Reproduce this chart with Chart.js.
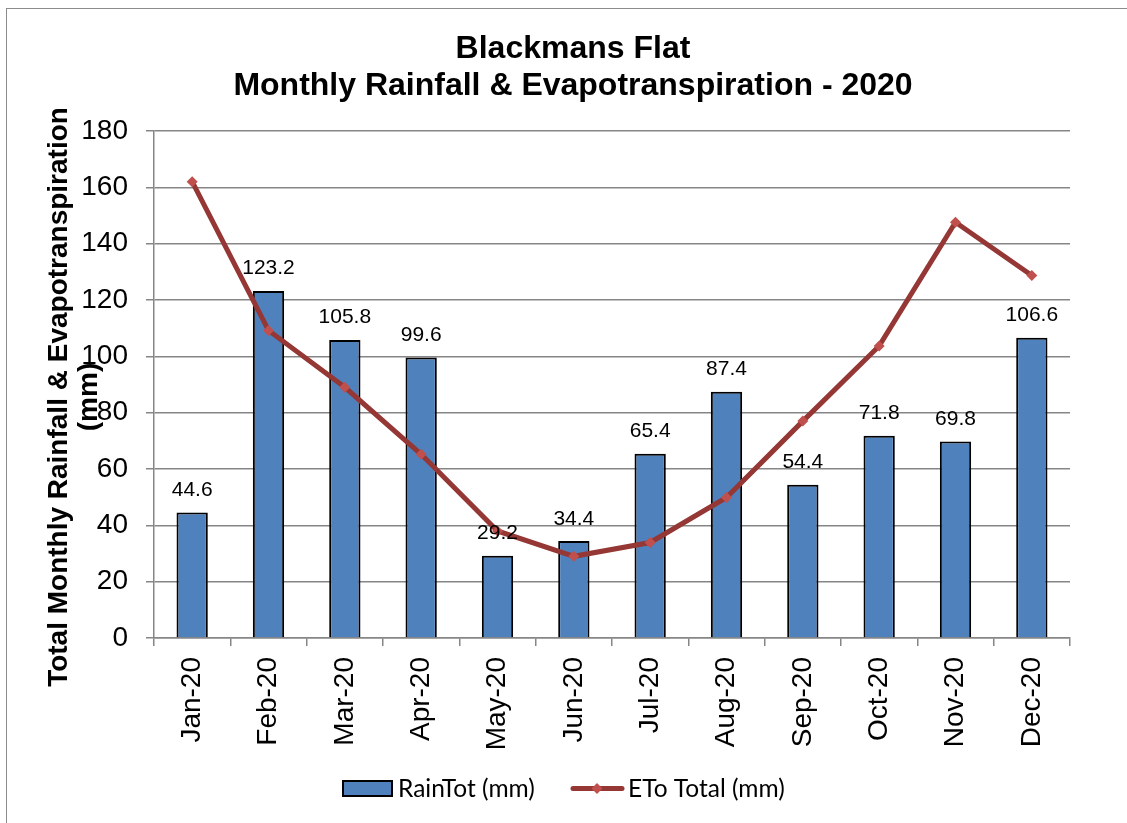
<!DOCTYPE html>
<html>
<head>
<meta charset="utf-8">
<script src="https://cdn.jsdelivr.net/npm/chart.js@4.4.1/dist/chart.umd.min.js"></script>
<style>
  html, body { margin: 0; padding: 0; background: #fff; }
  #wrap { width: 1127px; height: 823px; position: relative; }
</style>
</head>
<body>
<div id="wrap"><canvas id="c" width="1127" height="823"></canvas></div>
<script>
// data
const months = ['Jan-20','Feb-20','Mar-20','Apr-20','May-20','Jun-20','Jul-20','Aug-20','Sep-20','Oct-20','Nov-20','Dec-20'];
const rainTot = [44.6, 123.2, 105.8, 99.6, 29.2, 34.4, 65.4, 87.4, 54.4, 71.8, 69.8, 106.6];
const etoTotal = [162, 109.2, 89, 65.2, 38, 29, 33.9, 49.9, 77, 103.7, 147.6, 128.7];
const yMin = 0, yMax = 180, yStep = 20;
const titleLines = ['Blackmans Flat', 'Monthly Rainfall & Evapotranspiration - 2020'];
const yTitleLines = ['Total Monthly Rainfall & Evapotranspiration', '(mm)'];
const legendNames = ['RainTot (mm)', 'ETo Total (mm)'];

const BAR_BLUE = '#4F81BD', LINE_RED = '#953735', MARK_RED = '#C0504D', GRID = '#868686';
const FONT = "'Liberation Sans', Arial, sans-serif";

// titles, axis title, legend, value labels, outer frame
const decor = {
  id: 'decor',
  beforeDraw(chart){
    const c = chart.ctx;
    c.save();
    c.fillStyle = '#fff'; c.fillRect(0, 0, chart.width, chart.height);
    c.strokeStyle = '#8c8c8c'; c.lineWidth = 1;
    c.strokeRect(6.5, 8.5, 1300, 1000);
    c.restore();
  },
  afterDatasetsDraw(chart){
    const c = chart.ctx;
    const meta = chart.getDatasetMeta(0);
    c.save();
    c.fillStyle = '#000'; c.font = '21px ' + FONT;
    c.textAlign = 'center'; c.textBaseline = 'alphabetic';
    meta.data.forEach((el, i) => c.fillText(rainTot[i].toFixed(1), el.x, el.y - 16.5));
    c.restore();
  },
  afterDraw(chart){
    const c = chart.ctx;
    c.save();
    c.fillStyle = '#000';
    c.font = 'bold 32px ' + FONT; c.textAlign = 'center'; c.textBaseline = 'alphabetic';
    c.fillText(titleLines[0], 573, 58);
    c.fillText(titleLines[1], 573, 95);

    // y axis title, two lines, rotated
    c.save();
    c.translate(0, 397); c.rotate(-Math.PI/2);
    c.font = 'bold 28px ' + FONT;
    c.fillText(yTitleLines[0], 0, 66.7);
    c.fillText(yTitleLines[1], 0, 96.7);
    c.restore();

    // legend
    c.fillStyle = BAR_BLUE; c.fillRect(343, 781, 49, 15);
    c.strokeStyle = '#000'; c.lineWidth = 2; c.strokeRect(343, 781, 49, 15);
    c.strokeStyle = LINE_RED; c.lineWidth = 5; c.lineCap = 'round';
    c.beginPath(); c.moveTo(573, 788.5); c.lineTo(622, 788.5); c.stroke();
    c.fillStyle = MARK_RED;
    c.beginPath(); c.moveTo(597, 783); c.lineTo(602.5, 788.5); c.lineTo(597, 794); c.lineTo(591.5, 788.5); c.closePath(); c.fill();
    c.fillStyle = '#000'; c.font = "24.5px Lato, 'Open Sans', sans-serif"; c.textAlign = 'left';
    c.fillText(legendNames[0], 398, 797);
    c.fillText(legendNames[1], 628, 797);
    c.restore();
  }
};

new Chart(document.getElementById('c'), {
  type: 'bar',
  data: {
    labels: months,
    datasets: [
      { type: 'bar', label: legendNames[0], data: rainTot, order: 1,
        backgroundColor: BAR_BLUE, borderColor: '#000', borderWidth: 2,
        barPercentage: 0.41, categoryPercentage: 1 },
      { type: 'line', label: legendNames[1], data: etoTotal, order: 0,
        borderColor: LINE_RED, borderWidth: 5, tension: 0,
        pointStyle: 'rectRot', pointRadius: 5.5, pointBackgroundColor: MARK_RED, pointBorderColor: MARK_RED, pointBorderWidth: 0 }
    ]
  },
  options: {
    responsive: false, animation: false,
    layout: { padding: { top: 131, right: 57, left: 0, bottom: 0 } },
    plugins: { legend: { display: false }, title: { display: false }, tooltip: { enabled: false } },
    scales: {
      x: {
        offset: true,
        grid: { offset: true, drawOnChartArea: false, tickLength: 8, color: GRID, lineWidth: 1.5 },
        border: { color: GRID, width: 1.5 },
        ticks: { minRotation: 90, maxRotation: 90, autoSkip: false, padding: 11, color: '#000', font: { family: FONT, size: 28 } },
        afterFit(s){ s.height = 823 - 638; }
      },
      y: {
        min: yMin, max: yMax,
        grid: { color: GRID, lineWidth: 1.5, tickLength: 8 },
        border: { color: GRID, width: 1.5 },
        ticks: { stepSize: yStep, padding: 18, color: '#000', font: { family: FONT, size: 28 } },
        afterFit(s){ s.width = 154; }
      }
    }
  },
  plugins: [decor]
});
</script>
</body>
</html>
